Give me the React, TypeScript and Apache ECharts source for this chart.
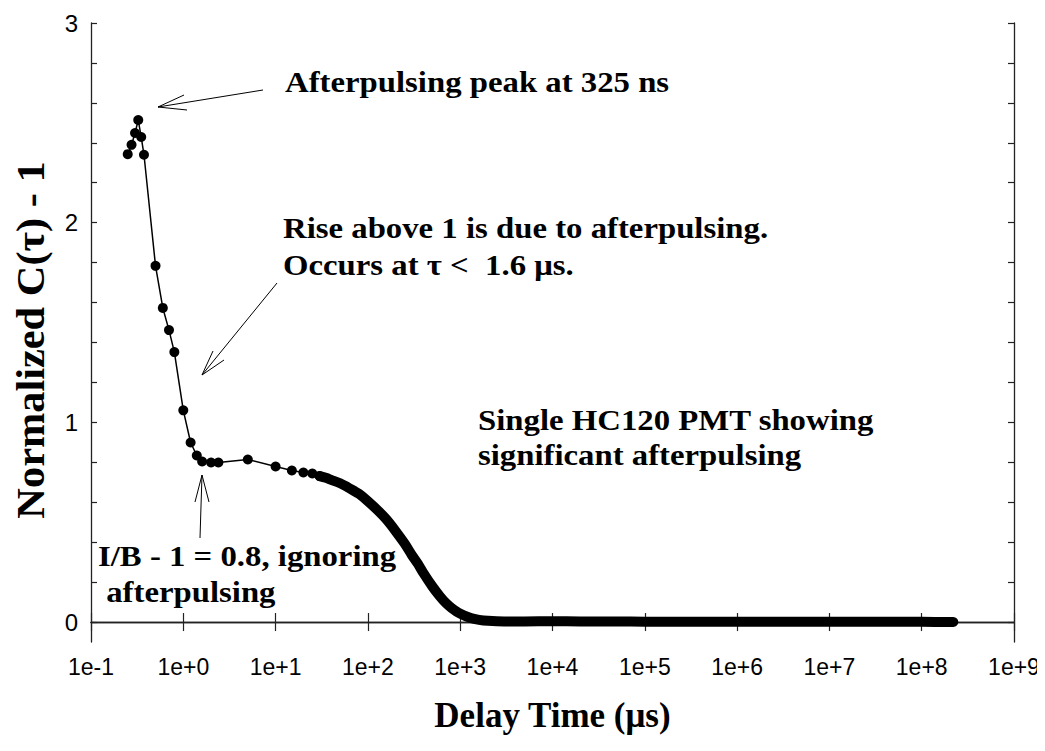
import React, { useEffect, useRef } from "react";
import * as echarts from "echarts";

// Sparse measured points (delay time in µs, normalized C(τ) - 1)
const sparseTimes = [0.25, 0.275, 0.3, 0.325, 0.35, 0.375, 0.5, 0.6, 0.7, 0.8, 1.0, 1.2, 1.4, 1.6, 2.0, 2.4, 5, 10, 15, 20, 25, 30];
const sparseValues = [2.343, 2.39, 2.449, 2.514, 2.429, 2.34, 1.784, 1.573, 1.462, 1.352, 1.06, 0.899, 0.834, 0.804, 0.799, 0.799, 0.814, 0.779, 0.759, 0.749, 0.744, 0.731];

// Dense region (points overlap into a thick band)
const denseTimes = [30, 35, 40, 50, 60, 70, 80, 100, 130, 160, 200, 250, 300, 350, 400, 500, 600, 700, 800, 1000, 1300, 1600, 2000, 3000, 5000, 1e4, 2e4, 5e4, 1e5, 1e6, 1e7, 1e8, 2.2e8];
const denseValues = [0.731, 0.722, 0.712, 0.695, 0.676, 0.658, 0.642, 0.605, 0.556, 0.512, 0.455, 0.393, 0.335, 0.29, 0.245, 0.178, 0.13, 0.095, 0.072, 0.042, 0.02, 0.011, 0.006, 0.003, 0.003, 0.004, 0.003, 0.003, 0.002, 0.002, 0.001, 0.001, 0.0];

const yLabelValues = [0, 1, 2, 3];
const yTickValues = [0, 0.2, 0.4, 0.6, 0.8, 1, 1.2, 1.4, 1.6, 1.8, 2, 2.2, 2.4, 2.6, 2.8, 3];

const SERIF = "'Liberation Serif', 'Times New Roman', serif";
const SANS = "'Liberation Sans', Arial, sans-serif";

function expLabel(v: number): string {
  const e = Math.round(Math.log10(v));
  return "1e" + (e >= 0 ? "+" : "-") + Math.abs(e);
}

function annText(text: string, x: number, y: number) {
  return {
    type: "text",
    x,
    y,
    scaleX: 1.13,
    style: {
      text,
      x: 0,
      y: 0,
      fill: "#000",
      font: `bold 29px ${SERIF}`,
      verticalAlign: "middle",
      align: "left",
    },
    z: 100,
  };
}

function seg(x1: number, y1: number, x2: number, y2: number) {
  return {
    type: "line",
    shape: { x1, y1, x2, y2 },
    style: { stroke: "#000", lineWidth: 1 },
    z: 100,
  };
}

export default function App() {
  const ref = useRef<HTMLDivElement>(null);
  useEffect(() => {
    if (!ref.current) return;
    const chart = echarts.init(ref.current, undefined, { renderer: "svg" });
    const axisLineStyle = { color: "#222", width: 1.3 };
    const tickStyle = { color: "#222", width: 1.2 };
    const option: any = {
      animation: false,
      backgroundColor: "#fff",
      grid: { left: 91, right: 31, top: 23, bottom: 109, containLabel: false },
      xAxis: [
        {
          type: "log",
          logBase: 10,
          min: 0.1,
          max: 1e9,
          position: "bottom",
          name: "Delay Time (μs)",
          nameLocation: "middle",
          nameGap: 56,
          nameTextStyle: { fontFamily: SERIF, fontWeight: "bold", fontSize: 35, color: "#000" },
          axisLine: { show: true, lineStyle: axisLineStyle },
          axisTick: { show: true, inside: true, length: 9, lineStyle: tickStyle },
          minorTick: { show: false },
          axisLabel: { formatter: expLabel, fontFamily: SANS, fontSize: 23, color: "#000", margin: 13 },
          splitLine: { show: false },
        },
        {
          type: "log",
          logBase: 10,
          min: 0.1,
          max: 1e9,
          position: "top",
          axisLine: { show: true, lineStyle: axisLineStyle },
          axisTick: { show: true, inside: true, length: 9, lineStyle: tickStyle },
          axisLabel: { show: false },
          splitLine: { show: false },
        },
      ],
      yAxis: [
        {
          type: "value",
          min: -0.1,
          max: 3,
          position: "left",
          axisLine: { show: true, lineStyle: axisLineStyle },
          axisTick: { show: true, inside: true, length: 6, customValues: yTickValues, lineStyle: tickStyle },
          axisLabel: { customValues: yLabelValues, fontFamily: SANS, fontSize: 24, color: "#000", margin: 13 },
          splitLine: { show: false },
        },
        {
          type: "value",
          min: -0.1,
          max: 3,
          position: "right",
          axisLine: { show: true, lineStyle: axisLineStyle },
          axisTick: { show: true, inside: true, length: 6, customValues: yTickValues, lineStyle: tickStyle },
          axisLabel: { show: false },
          splitLine: { show: false },
        },
      ],
      series: [
        {
          type: "line",
          name: "dense",
          xAxisIndex: 0,
          yAxisIndex: 0,
          data: denseTimes.map((t, i) => [t, denseValues[i]]),
          showSymbol: false,
          smooth: 0.3,
          lineStyle: { color: "#000", width: 10, cap: "round", join: "round" },
          z: 3,
        },
        {
          type: "line",
          name: "sparse",
          xAxisIndex: 0,
          yAxisIndex: 0,
          data: sparseTimes.map((t, i) => [t, sparseValues[i]]),
          symbol: "circle",
          symbolSize: 10,
          showAllSymbol: true,
          lineStyle: { color: "#000", width: 1.5 },
          itemStyle: { color: "#000" },
          z: 4,
        },
      ],
      graphic: [
        {
          type: "text",
          x: 30,
          y: 340,
          rotation: Math.PI / 2,
          scaleX: 1.06,
          style: {
            text: "Normalized C(τ) - 1",
            x: 0,
            y: 0,
            fill: "#000",
            font: `bold 40px ${SERIF}`,
            align: "center",
            verticalAlign: "middle",
          },
          z: 100,
        },
        annText("Afterpulsing peak at 325 ns", 285, 82),
        annText("Rise above 1 is due to afterpulsing.", 283, 228),
        annText("Occurs at τ <  1.6 μs.", 283, 265),
        annText("Single HC120 PMT showing", 478, 420),
        annText("significant afterpulsing", 478, 455),
        annText("I/B - 1 = 0.8, ignoring", 98, 556),
        annText(" afterpulsing", 98, 592),
        // arrow to peak
        seg(263, 90, 158, 107),
        seg(158, 107, 184, 95),
        seg(158, 107, 187, 110),
        // arrow to rise region
        seg(277, 283, 202, 375),
        seg(202, 375, 213, 351),
        seg(202, 375, 224, 360),
        // arrow up to plateau
        seg(200, 538, 202, 475),
        seg(202, 475, 195, 502),
        seg(202, 475, 209, 502),
      ],
    };
    chart.setOption(option);
    return () => chart.dispose();
  }, []);
  return <div ref={ref} style={{ width: 1045, height: 751, margin: -8 }} />;
}
